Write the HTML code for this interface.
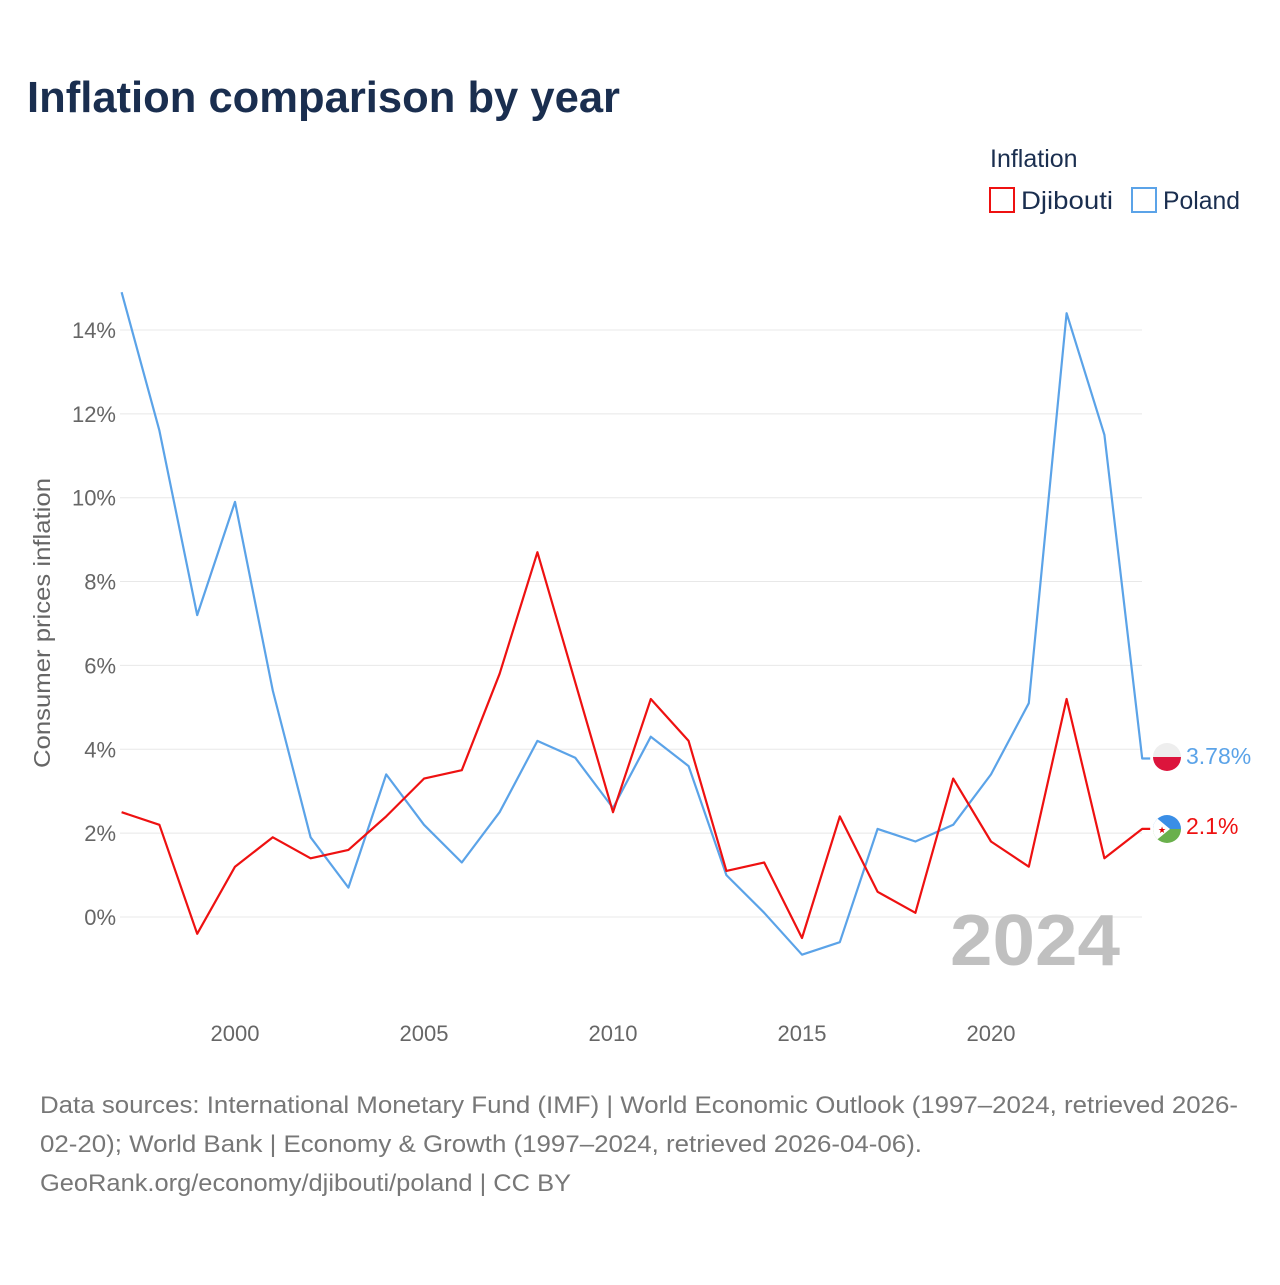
<!DOCTYPE html>
<html><head><meta charset="utf-8"><style>
body{margin:0;background:#fff;font-family:"Liberation Sans",sans-serif;}
svg text{font-family:"Liberation Sans",sans-serif;}
</style></head><body>
<svg width="1280" height="1280" viewBox="0 0 1280 1280">
<text x="27" y="112" font-size="44" font-weight="bold" fill="#1a2e4f" textLength="593" lengthAdjust="spacingAndGlyphs">Inflation comparison by year</text>
<text x="990" y="167" font-size="25" fill="#1a2e4f">Inflation</text>
<g><rect x="990" y="188" width="24" height="24" fill="none" stroke="#ee1111" stroke-width="2"/><text x="1021" y="209" font-size="25" fill="#1a2e4f" textLength="92" lengthAdjust="spacingAndGlyphs">Djibouti</text></g>
<g><rect x="1132" y="188" width="24" height="24" fill="none" stroke="#5ba3e8" stroke-width="2"/><text x="1163" y="209" font-size="25" fill="#1a2e4f" textLength="77" lengthAdjust="spacingAndGlyphs">Poland</text></g>
<g id="grid"></g>
<g id="yticks"></g>
<g id="xticks"></g>
<text transform="translate(50,623) rotate(-90)" text-anchor="middle" font-size="23" fill="#666" textLength="290" lengthAdjust="spacingAndGlyphs">Consumer prices inflation</text>
<text x="950" y="965" font-size="72" font-weight="bold" fill="#c0c0c0" textLength="170" lengthAdjust="spacingAndGlyphs">2024</text>
<g id="series"></g>
<g><clipPath id="c1"><circle cx="1167" cy="757" r="14"/></clipPath><g clip-path="url(#c1)"><rect x="1153" y="743" width="28" height="14" fill="#eee"/><rect x="1153" y="757" width="28" height="14" fill="#dc143c"/></g></g>
<g><clipPath id="c2"><circle cx="1167" cy="829" r="14"/></clipPath><g clip-path="url(#c2)"><rect x="1153" y="815" width="28" height="14" fill="#3a8ee6"/><rect x="1153" y="829" width="28" height="14" fill="#6ab04c"/><polygon points="1153,815 1170,829 1153,843" fill="#fff"/></g><text x="1158" y="833" font-size="9" fill="#d00">★</text></g>
<text id="lblP" x="1186" y="764" font-size="23" fill="#5ba3e8">3.78%</text>
<text id="lblD" x="1186" y="834" font-size="23" fill="#ee1111">2.1%</text>
<text x="40" y="1113" font-size="24" fill="#777" textLength="1198" lengthAdjust="spacingAndGlyphs">Data sources: International Monetary Fund (IMF) | World Economic Outlook (1997–2024, retrieved 2026-</text>
<text x="40" y="1152" font-size="24" fill="#777" textLength="882" lengthAdjust="spacingAndGlyphs">02-20); World Bank | Economy &amp; Growth (1997–2024, retrieved 2026-04-06).</text>
<text x="40" y="1191" font-size="24" fill="#777" textLength="531" lengthAdjust="spacingAndGlyphs">GeoRank.org/economy/djibouti/poland | CC BY</text>
</svg>
<script>
const years=[1997,1998,1999,2000,2001,2002,2003,2004,2005,2006,2007,2008,2009,2010,2011,2012,2013,2014,2015,2016,2017,2018,2019,2020,2021,2022,2023,2024];
const djibouti=[2.5,2.2,-0.4,1.2,1.9,1.4,1.6,2.4,3.3,3.5,5.8,8.7,5.6,2.5,5.2,4.2,1.1,1.3,-0.5,2.4,0.6,0.1,3.3,1.8,1.2,5.2,1.4,2.1];
const poland=[14.9,11.6,7.2,9.9,5.4,1.9,0.7,3.4,2.2,1.3,2.5,4.2,3.8,2.6,4.3,3.6,1.0,0.1,-0.9,-0.6,2.1,1.8,2.2,3.4,5.1,14.4,11.5,3.78];
const yTicks=[0,2,4,6,8,10,12,14];
const xTicks=[2000,2005,2010,2015,2020];
const NS='http://www.w3.org/2000/svg';
const x=v=>121.6+(v-1997)*37.8;
const y=v=>917-v*41.93;
function mk(t,a,p){const e=document.createElementNS(NS,t);for(const k in a)e.setAttribute(k,a[k]);p.appendChild(e);return e;}
const g=document.getElementById('grid'),yt=document.getElementById('yticks'),xt=document.getElementById('xticks'),s=document.getElementById('series');
yTicks.forEach(v=>{const l=mk('line',{x1:120,x2:1142,y1:y(v),y2:y(v),stroke:'#e8e8e8','stroke-width':1},g);


const t=mk('text',{x:116,y:y(v)+8,'text-anchor':'end','font-size':22,fill:'#666'},yt);t.textContent=v+'%';

});
xTicks.forEach(v=>{const t=mk('text',{x:x(v),y:1041,'text-anchor':'middle','font-size':22,fill:'#666'},xt);t.textContent=v;

});
function line(data,color,name){let d=data.map((v,i)=>(i?'L':'M')+x(years[i]).toFixed(1)+','+y(v).toFixed(1)).join(' ');
d+=' L'+(x(years[years.length-1])+8)+','+y(data[data.length-1]).toFixed(1);
const p=mk('path',{d:d,fill:'none',stroke:color,'stroke-width':2.2,'stroke-linejoin':'round'},s);

}
line(poland,'#5ba3e8','line-poland');
line(djibouti,'#ee1111','line-djibouti');
document.getElementById('lblP').textContent=poland[poland.length-1]+'%';
document.getElementById('lblD').textContent=djibouti[djibouti.length-1]+'%';
</script>
</body></html>
